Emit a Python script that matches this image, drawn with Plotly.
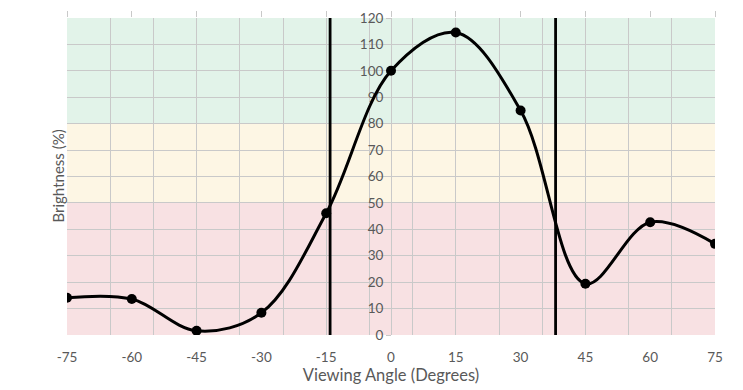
import plotly.graph_objects as go

# ---- data ----
angles = [-75, -60, -45, -30, -15, 0, 15, 30, 45, 60, 75]
brightness = [14.1, 13.6, 1.6, 8.4, 46.1, 100.0, 114.5, 85.0, 19.4, 42.7, 34.5]
x_tick_labels = [-75, -60, -45, -30, -15, 0, 15, 30, 45, 60, 75]
y_tick_labels = [0, 10, 20, 30, 40, 50, 60, 70, 80, 90, 100, 110, 120]
x_grid_vals = [-75, -65, -55, -45, -35, -25, -15, -5, 5, 15, 25, 35, 45, 55, 65, 75]
ref_lines = [-14.1, 38.1]
band_edges = [0, 50, 80, 120]
band_colors = ["#f8e1e3", "#fdf6e4", "#e2f3e9"]

x_range = [-75, 75]
y_range = [0, 120]

grey_text = "#595959"
grid_col = "#c9c9c9"
font_fam = "Lato, 'Open Sans', sans-serif"

fig = go.Figure()

# curve
fig.add_trace(go.Scatter(
    x=angles, y=brightness, mode="lines+markers",
    line=dict(color="black", width=3, shape="spline", smoothing=1.0),
    marker=dict(color="black", size=10),
    showlegend=False, hoverinfo="x+y",
))
# dummy traces for overlay axes
fig.add_trace(go.Scatter(x=[None], y=[None], xaxis="x2", showlegend=False, hoverinfo="skip"))
fig.add_trace(go.Scatter(x=[None], y=[None], xaxis="x3", showlegend=False, hoverinfo="skip"))

# background bands
for i, c in enumerate(band_colors):
    fig.add_shape(type="rect", xref="x", yref="y", x0=x_range[0], x1=x_range[1],
                  y0=band_edges[i], y1=band_edges[i + 1], fillcolor=c,
                  line=dict(width=0), layer="below")

# reference vertical lines
for xv in ref_lines:
    fig.add_shape(type="line", xref="x", yref="y", x0=xv, x1=xv,
                  y0=y_range[0], y1=y_range[1], line=dict(color="black", width=2.8),
                  layer="above")

# page body has an 8px margin, so the figure is sized/offset to compensate
fig.update_layout(
    width=735, height=382,
    margin=dict(l=59, r=28, t=10, b=55, autoexpand=False),
    paper_bgcolor="white", plot_bgcolor="rgba(0,0,0,0)",
    font=dict(family=font_fam, size=13.5, color=grey_text),
    xaxis=dict(
        range=x_range, tickvals=x_tick_labels, ticktext=[str(v) for v in x_tick_labels],
        showgrid=False, zeroline=False, showline=False, automargin=False,
        ticks="outside", ticklen=10, tickcolor="rgba(0,0,0,0)",
        title=dict(text="Viewing Angle (Degrees)", standoff=4,
                   font=dict(size=16.5, color=grey_text)),
        layer="below traces",
    ),
    xaxis2=dict(
        overlaying="x", matches="x", side="top", range=x_range, automargin=False,
        tickvals=x_tick_labels, showticklabels=False, showgrid=False,
        ticks="outside", ticklen=6, tickcolor=grid_col, showline=False,
        zeroline=False,
    ),
    xaxis3=dict(
        overlaying="x", matches="x", side="bottom", range=x_range, automargin=False,
        tickvals=x_grid_vals, showticklabels=False, showgrid=True,
        gridcolor=grid_col, gridwidth=1, ticks="", zeroline=False,
        showline=False, layer="below traces",
    ),
    yaxis=dict(
        range=y_range, tickvals=y_tick_labels, ticktext=[str(v) for v in y_tick_labels],
        showgrid=True, gridcolor=grid_col, gridwidth=1, zeroline=False, automargin=False,
        anchor="free", position=0.5, showline=True, linecolor=grid_col,
        ticks="outside", ticklen=5, tickcolor=grid_col,
        layer="below traces",
    ),
    annotations=[dict(
        text="Brightness (%)", xref="paper", yref="paper", x=-0.0154, y=0.5,
        xanchor="center", yanchor="middle", textangle=-90, showarrow=False,
        font=dict(size=15, color=grey_text),
    )],
)

fig.write_html("out.html")
